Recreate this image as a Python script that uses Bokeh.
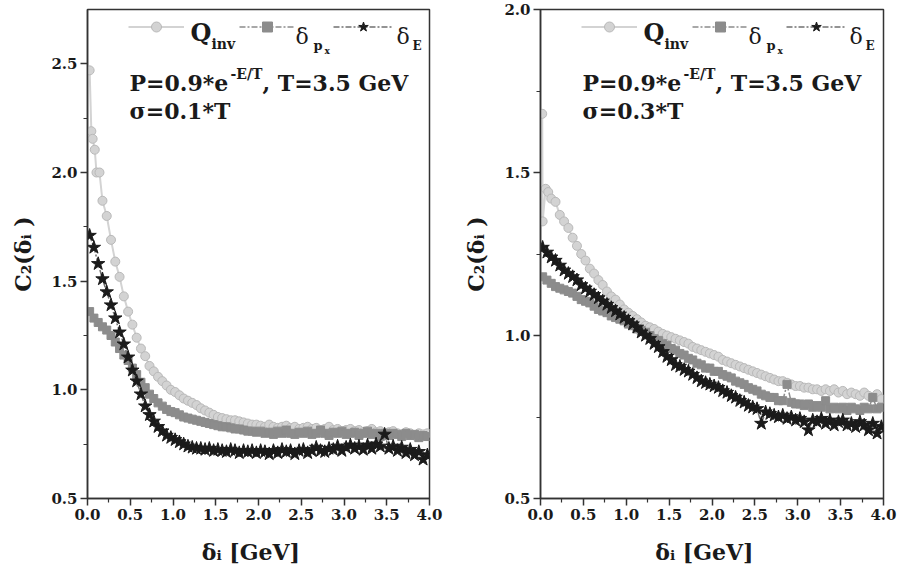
import math
from bokeh.plotting import figure
from bokeh.layouts import row
from bokeh.models import Label, Legend, LegendItem, FixedTicker, Range1d
from bokeh.embed import file_html
from bokeh.resources import INLINE

FONT = "DejaVu Serif"

# ---------------- data ----------------
x_ticks = [0.0, 0.5, 1.0, 1.5, 2.0, 2.5, 3.0, 3.5, 4.0]
x_tick_labels = ["0.0", "0.5", "1.0", "1.5", "2.0", "2.5", "3.0", "3.5", "4.0"]
x_minor = [0.25, 0.75, 1.25, 1.75, 2.25, 2.75, 3.25, 3.75]
y_ticks_left = [0.5, 1.0, 1.5, 2.0, 2.5]
y_labels_left = ["0.5", "1.0", "1.5", "2.0", "2.5"]
y_minor_left = [0.75, 1.25, 1.75, 2.25]
y_ticks_right = [0.5, 1.0, 1.5, 2.0]
y_labels_right = ["0.5", "1.0", "1.5", "2.0"]
y_minor_right = [0.75, 1.25, 1.75]

x_title = "δᵢ   [GeV]"
y_title = "C₂(δᵢ )"

# delta bins (GeV)
delta = [0.025, 0.075, 0.125, 0.175, 0.225, 0.275, 0.325, 0.375, 0.425, 0.475,
         0.525, 0.575, 0.625, 0.675, 0.725, 0.775, 0.825, 0.875, 0.925, 0.975,
         1.025, 1.075, 1.125, 1.175, 1.225, 1.275, 1.325, 1.375, 1.425, 1.475,
         1.525, 1.575, 1.625, 1.675, 1.725, 1.775, 1.825, 1.875, 1.925, 1.975,
         2.025, 2.075, 2.125, 2.175, 2.225, 2.275, 2.325, 2.375, 2.425, 2.475,
         2.525, 2.575, 2.625, 2.675, 2.725, 2.775, 2.825, 2.875, 2.925, 2.975,
         3.025, 3.075, 3.125, 3.175, 3.225, 3.275, 3.325, 3.375, 3.425, 3.475,
         3.525, 3.575, 3.625, 3.675, 3.725, 3.775, 3.825, 3.875, 3.925, 3.975]

# --- left panel, sigma = 0.1*T ---
qinv_head_x_left = [0.025, 0.045, 0.06, 0.085, 0.105, 0.14]
qinv_head_y_left = [2.47, 2.19, 2.155, 2.105, 2.0, 2.0]
qinv_left = [1.87, 1.80, 1.69, 1.59, 1.52, 1.43, 1.36, 1.30, 1.24, 1.19,
             1.155, 1.11, 1.085, 1.06, 1.04, 1.02, 1.00, 0.99, 0.975, 0.96,
             0.95, 0.94, 0.93, 0.915, 0.905, 0.895, 0.885, 0.875, 0.87, 0.865,
             0.86, 0.86, 0.855, 0.85, 0.845, 0.84, 0.84,
             0.835, 0.83, 0.84, 0.83, 0.825, 0.83, 0.835, 0.825, 0.83, 0.82,
             0.825, 0.83, 0.82, 0.825, 0.815, 0.82, 0.83, 0.815, 0.82, 0.81,
             0.815, 0.82, 0.81, 0.815, 0.805, 0.81, 0.82, 0.805, 0.81, 0.80,
             0.805, 0.81, 0.80, 0.795, 0.805, 0.80, 0.79, 0.80, 0.795, 0.80]
dpx_left = [1.36, 1.33, 1.31, 1.29, 1.275, 1.25, 1.22, 1.19, 1.16, 1.135,
            1.10, 1.07, 1.035, 1.01, 0.98, 0.96, 0.94, 0.925, 0.91, 0.90,
            0.895, 0.885, 0.875, 0.87, 0.865, 0.86, 0.855, 0.85, 0.845, 0.84,
            0.835, 0.83, 0.83, 0.825, 0.82, 0.82, 0.815, 0.81, 0.81, 0.805,
            0.81, 0.80, 0.805, 0.795, 0.81, 0.80, 0.815, 0.80, 0.795, 0.805,
            0.80, 0.81, 0.795, 0.80, 0.815, 0.80, 0.79, 0.805, 0.80, 0.81,
            0.795, 0.80, 0.805, 0.79, 0.80, 0.81, 0.795, 0.80, 0.785, 0.80,
            0.79, 0.80, 0.795, 0.785, 0.80, 0.79, 0.795, 0.78, 0.79, 0.785]
dE_left = [1.71, 1.655, 1.58, 1.51, 1.45, 1.39, 1.33, 1.265, 1.21, 1.15,
           1.09, 1.04, 0.98, 0.925, 0.885, 0.855, 0.83, 0.81, 0.79, 0.78,
           0.77, 0.76, 0.75, 0.74, 0.735, 0.73, 0.73, 0.725, 0.73, 0.72,
           0.725, 0.72, 0.715, 0.725, 0.72, 0.71, 0.72, 0.715, 0.72, 0.71,
           0.72, 0.715, 0.705, 0.72, 0.71, 0.725, 0.715, 0.72, 0.705, 0.72,
           0.725, 0.71, 0.72, 0.735, 0.72, 0.715, 0.73, 0.725, 0.74, 0.72,
           0.735, 0.745, 0.73, 0.74, 0.725, 0.745, 0.73, 0.75, 0.74, 0.795,
           0.73, 0.74, 0.72, 0.735, 0.71, 0.725, 0.70, 0.715, 0.68, 0.70]

# --- right panel, sigma = 0.3*T ---
qinv_head_x_right = [0.02, 0.025, 0.06, 0.09, 0.125]
qinv_head_y_right = [1.68, 1.35, 1.45, 1.44, 1.42]
qinv_right = [1.41, 1.37, 1.35, 1.33, 1.30, 1.275, 1.25, 1.23, 1.205, 1.19,
              1.17, 1.155, 1.135, 1.12, 1.11, 1.095, 1.08, 1.07, 1.06, 1.05,
              1.04, 1.03, 1.025, 1.02, 1.012, 1.005, 1.0, 0.995, 0.99, 0.985,
              0.98, 0.975, 0.965, 0.96, 0.955, 0.95, 0.945,
              0.94, 0.935, 0.925, 0.92, 0.915, 0.91, 0.905, 0.90, 0.895, 0.89,
              0.885, 0.88, 0.875, 0.87, 0.865, 0.86, 0.86, 0.855, 0.85, 0.845,
              0.845, 0.84, 0.84, 0.835, 0.835, 0.83, 0.835, 0.83, 0.835, 0.825,
              0.83, 0.82, 0.825, 0.82, 0.815, 0.825, 0.815, 0.81, 0.82, 0.805]
dpx_right = [1.18, 1.17, 1.16, 1.15, 1.145, 1.14, 1.135, 1.13, 1.12, 1.11,
             1.105, 1.10, 1.09, 1.08, 1.075, 1.07, 1.06, 1.055, 1.05, 1.045,
             1.035, 1.03, 1.02, 1.015, 1.01, 1.0, 0.99, 0.985, 0.975, 0.97,
             0.96, 0.955, 0.945, 0.94, 0.93, 0.925, 0.915, 0.91, 0.90, 0.90,
             0.89, 0.89, 0.88, 0.875, 0.87, 0.86, 0.855, 0.85, 0.84, 0.835,
             0.83, 0.82, 0.815, 0.81, 0.81, 0.80, 0.80, 0.85, 0.795, 0.79,
             0.79, 0.785, 0.79, 0.78, 0.785, 0.78, 0.80, 0.775, 0.78, 0.775,
             0.78, 0.77, 0.78, 0.775, 0.77, 0.78, 0.775, 0.81, 0.775, 0.78]
dE_right = [1.27, 1.255, 1.24, 1.23, 1.215, 1.20, 1.19, 1.18, 1.17, 1.155,
            1.145, 1.135, 1.125, 1.115, 1.105, 1.095, 1.085, 1.075, 1.065, 1.055,
            1.045, 1.035, 1.025, 1.01, 1.0, 0.99, 0.975, 0.965, 0.95, 0.935,
            0.925, 0.91, 0.905, 0.895, 0.89, 0.88, 0.87, 0.86, 0.855, 0.85,
            0.845, 0.84, 0.83, 0.825, 0.815, 0.81, 0.80, 0.795, 0.785, 0.78,
            0.775, 0.73, 0.765, 0.76, 0.755, 0.75, 0.755, 0.745, 0.75, 0.74,
            0.745, 0.735, 0.71, 0.74, 0.735, 0.745, 0.73, 0.74, 0.725, 0.735,
            0.74, 0.725, 0.73, 0.72, 0.735, 0.725, 0.71, 0.73, 0.70, 0.72]

Q_COLOR, Q_EDGE = "#d3d3d3", "#b9b9b9"
PX_COLOR = "#8c8c8c"
E_COLOR = "#1b1b1b"
TXT = "#1a1a1a"
AX = "#333333"


def lab(p, text, x, y, size, bold=True):
    p.add_layout(Label(x=x, y=y, x_units="screen", y_units="screen", text=text,
                       text_font=FONT, text_font_size=f"{size}px",
                       text_font_style="bold" if bold else "normal",
                       text_color=TXT, text_align="left", text_baseline="alphabetic"))


def make_panel(width, border_left, border_right, y_end, yt, ylab, ymin,
               qx, qy, px, e, sigma_text):
    p = figure(width=width, height=573, x_range=Range1d(0, 4), y_range=Range1d(0.5, y_end),
               output_backend="svg", toolbar_location=None,
               min_border_left=border_left, min_border_right=border_right,
               min_border_top=9, min_border_bottom=75)
    p.xgrid.visible = False
    p.ygrid.visible = False
    p.outline_line_color = AX
    p.outline_line_width = 1.5
    p.background_fill_color = "white"
    p.border_fill_color = "white"

    p.xaxis.ticker = FixedTicker(ticks=x_ticks, minor_ticks=x_minor)
    p.xaxis.major_label_overrides = {t: s for t, s in zip(x_ticks, x_tick_labels)}
    p.yaxis.ticker = FixedTicker(ticks=yt, minor_ticks=ymin)
    p.yaxis.major_label_overrides = {t: s for t, s in zip(yt, ylab)}
    for ax in (p.xaxis[0], p.yaxis[0]):
        ax.axis_line_color = AX
        ax.axis_line_width = 1.5
        ax.major_tick_line_color = AX
        ax.major_tick_line_width = 1.5
        ax.minor_tick_line_color = AX
        ax.minor_tick_line_width = 1.2
        ax.major_tick_out = 7
        ax.major_tick_in = 0
        ax.minor_tick_out = 4
        ax.minor_tick_in = 0
        ax.major_label_text_font = FONT
        ax.major_label_text_font_style = "bold"
        ax.major_label_text_font_size = "15px"
        ax.major_label_text_color = TXT
        ax.major_label_standoff = 3
        ax.axis_label_text_font = FONT
        ax.axis_label_text_font_style = "bold"
        ax.axis_label_text_font_size = "22px"
        ax.axis_label_text_color = TXT
    p.xaxis.axis_label = x_title
    p.xaxis.axis_label_standoff = 16
    p.yaxis.axis_label = y_title
    p.yaxis.axis_label_standoff = 12

    lq = p.line(qx, qy, line_color=Q_COLOR, line_width=2)
    sq = p.scatter(qx, qy, marker="circle", size=9, fill_color=Q_COLOR, line_color=Q_EDGE, line_width=1)
    lp = p.line(delta, px, line_color=PX_COLOR, line_width=1.5, line_dash="6 2 2 2")
    sp = p.scatter(delta, px, marker="square", size=8, fill_color=PX_COLOR, line_color=PX_COLOR)
    le = p.line(delta, e, line_color="#707070", line_width=1.5, line_dash="6 2 2 2")
    se = p.scatter(delta, e, marker="star", size=14, fill_color=E_COLOR, line_color=E_COLOR)

    # legend swatches
    leg_y = 472 - 12.5
    for rends, sx, gw in (([lq, sq], 41, 56), ([lp, sp], 152, 56), ([le, se], 246, 60)):
        lg = Legend(items=[LegendItem(label=" ", renderers=rends)], location=(sx, leg_y),
                    orientation="horizontal", glyph_width=gw, glyph_height=25,
                    label_standoff=0, label_width=0, label_height=25, padding=0, margin=0,
                    spacing=0, border_line_color=None, background_fill_alpha=0,
                    label_text_font_size="1px", label_text_color="white")
        p.add_layout(lg)
    lab(p, "Q", 103, 466, 24)
    lab(p, "inv", 124, 455, 14)
    lab(p, "δ", 208, 462, 22, bold=False)
    lab(p, "p", 226, 453, 13)
    lab(p, "x", 237, 448, 9)
    lab(p, "δ", 309, 462, 22, bold=False)
    lab(p, "E", 325, 453, 12)

    # annotation
    lab(p, "P=0.9*e", 42, 416, 22)
    lab(p, "-E/T", 143, 425, 14)
    lab(p, ", T=3.5 GeV", 175, 416, 22)
    lab(p, sigma_text, 42, 388, 22)
    return p


p_left = make_panel(450, 87, 21, 2.75, y_ticks_left, y_labels_left, y_minor_left,
                    qinv_head_x_left + delta[3:], qinv_head_y_left + qinv_left,
                    dpx_left, dE_left, "σ=0.1*T")
p_right = make_panel(451, 90, 18, 2.0, y_ticks_right, y_labels_right, y_minor_right,
                     qinv_head_x_right + delta[3:], qinv_head_y_right + qinv_right,
                     dpx_right, dE_right, "σ=0.3*T")

layout = row(p_left, p_right)
open("out.html", "w").write(file_html(layout, INLINE))
